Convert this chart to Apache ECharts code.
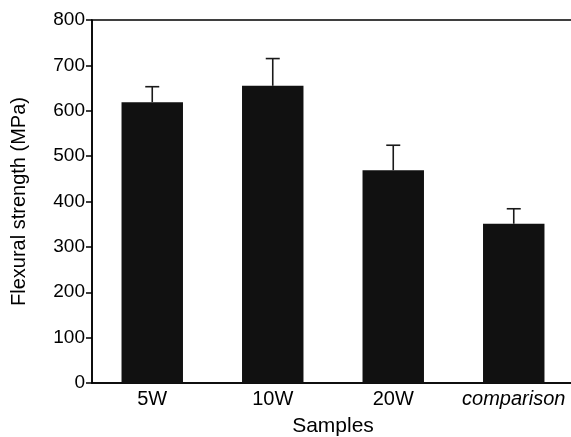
<!DOCTYPE html>
<html>
<head>
<meta charset="utf-8">
<script src="https://cdn.jsdelivr.net/npm/echarts@6/dist/echarts.min.js"></script>
<style>
  html, body { margin: 0; padding: 0; background: #fff; overflow: hidden; }
  #chart { width: 576px; height: 437px; }
</style>
</head>
<body>
<div id="chart"></div>
<script>
const samples = ['5W', '10W', '20W', 'comparison']
const strength = [619, 655, 469, 351]
const errorUp = [34, 60, 55, 33]
const yTicks = [0, 100, 200, 300, 400, 500, 600, 700, 800]

const chart = echarts.init(document.getElementById('chart'))
const font = 'Liberation Sans, Arial, sans-serif'

chart.setOption({
  backgroundColor: '#fff',
  animation: false,
  textStyle: { fontFamily: font, color: '#000' },
  grid: {
    left: 92, right: 2, top: 20, bottom: 54,
    outerBoundsMode: 'none',
    containLabel: false,
    show: true, borderColor: '#000', borderWidth: 1.5, backgroundColor: 'transparent'
  },
  xAxis: {
    type: 'category',
    data: samples,
    name: 'Samples',
    nameLocation: 'middle',
    nameGap: 33,
    nameTextStyle: { fontSize: 21, color: '#000', fontFamily: font },
    axisLine: { lineStyle: { color: '#000', width: 1.5 } },
    axisTick: { show: false },
    axisLabel: {
      interval: 0,
      fontSize: 20, color: '#000', margin: 6, fontFamily: font,
      formatter: (v) => v === 'comparison' ? '{i|' + v + '}' : v,
      rich: { i: { fontStyle: 'italic', fontSize: 20, fontFamily: font, color: '#000' } }
    }
  },
  yAxis: {
    type: 'value',
    min: yTicks[0],
    max: yTicks[yTicks.length - 1],
    interval: 100,
    name: 'Flexural strength (MPa)',
    nameLocation: 'middle',
    nameGap: 63,
    nameTextStyle: { fontSize: 20, color: '#000', fontFamily: font },
    axisLine: { show: true, lineStyle: { color: '#000', width: 1.5 } },
    axisTick: { show: true, length: 6, lineStyle: { color: '#000', width: 1.5 } },
    axisLabel: { fontSize: 19, color: '#000', margin: 7, fontFamily: font },
    splitLine: { show: false }
  },
  series: [
    {
      type: 'bar',
      data: strength,
      barWidth: '51%',
      itemStyle: { color: '#111' }
    },
    {
      type: 'custom',
      data: strength.map((v, i) => [i, v, v + errorUp[i]]),
      z: 5,
      renderItem: (params, api) => {
        const base = api.coord([api.value(0), api.value(1)])
        const top = api.coord([api.value(0), api.value(2)])
        const half = 7
        const style = { stroke: '#1a1a1a', lineWidth: 1.6 }
        return {
          type: 'group',
          children: [
            { type: 'line', shape: { x1: top[0], y1: base[1], x2: top[0], y2: top[1] }, style },
            { type: 'line', shape: { x1: top[0] - half, y1: top[1], x2: top[0] + half, y2: top[1] }, style }
          ]
        }
      }
    }
  ]
})
</script>
</body>
</html>
